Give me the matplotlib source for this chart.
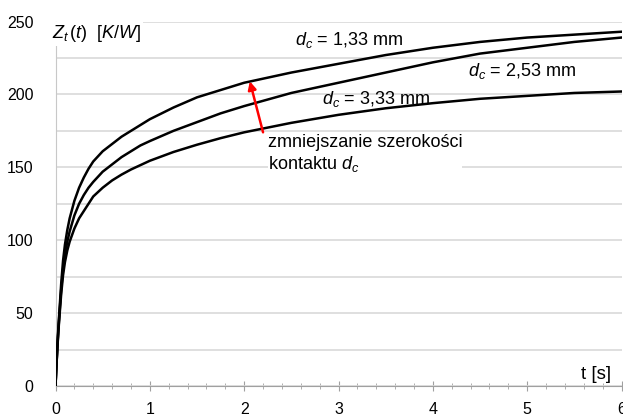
import numpy as np
import matplotlib.pyplot as plt
from matplotlib.ticker import MultipleLocator

plt.rcParams['font.family'] = ['Liberation Sans', 'DejaVu Sans']
plt.rcParams['mathtext.fontset'] = 'custom'
plt.rcParams['mathtext.rm'] = 'Liberation Sans'
plt.rcParams['mathtext.it'] = 'Liberation Sans:italic'

t = [0, 0.01, 0.02, 0.03, 0.04, 0.06, 0.08, 0.1, 0.125, 0.15, 0.2, 0.25,
     0.3, 0.35, 0.4, 0.5, 0.6, 0.7, 0.8, 0.9, 1.0, 1.25, 1.5, 1.75, 2.0,
     2.5, 3.0, 3.5, 4.0, 4.5, 5.0, 5.5, 6.0]
z_133 = [0, 15, 28, 40, 50, 70, 86, 97, 107, 115, 127, 136,
         143, 149, 154, 161, 166, 171, 175, 179, 183, 191, 198, 203, 208,
         215, 221, 227, 232, 236, 239, 241, 243]
z_253 = [0, 14, 27, 38, 48, 66, 80, 90, 99, 106, 117, 125,
         131, 136, 140, 147, 152, 157, 161, 165, 168, 175, 181, 187, 192,
         201, 208, 215, 222, 228, 232, 236, 239]
z_333 = [0, 14, 26, 37, 46, 63, 76, 85, 93, 99, 108, 115,
         120, 125, 130, 136, 141, 145, 148.5, 151.5, 154.5, 160.5, 165.5,
         170, 174, 180.5, 186, 190.5, 194, 197, 199, 201, 202]

labels = ['$d_c$ = 1,33 mm', '$d_c$ = 2,53 mm', '$d_c$ = 3,33 mm']
label_pos = [(2.54, 237), (4.37, 216), (2.83, 197)]

fig = plt.figure(figsize=(6.23, 4.17), dpi=100)
ax = fig.add_axes([0.0891, 0.0743, 0.9085, 0.8741])

for z in (z_133, z_253, z_333):
    ax.plot(t, z, color='black', lw=1.8, zorder=3, solid_joinstyle='round')

ax.set_xlim(0, 6)
ax.set_ylim(0, 250)
ax.yaxis.set_major_locator(MultipleLocator(50))
ax.yaxis.set_minor_locator(MultipleLocator(25))
ax.xaxis.set_major_locator(MultipleLocator(1))
ax.xaxis.set_minor_locator(MultipleLocator(0.2))
ax.grid(axis='y', which='both', color='#d9d9d9', lw=1.2)

for s in ['top', 'right']:
    ax.spines[s].set_visible(False)
ax.spines['left'].set_color('#c8c8c8')
ax.spines['bottom'].set_color('#a0a0a0')
ax.tick_params(axis='y', which='both', length=0, pad=16, labelsize=11.5)
ax.tick_params(axis='x', which='major', direction='inout', length=7,
               color='#a0a0a0', pad=8, labelsize=11.5)
ax.tick_params(axis='x', which='minor', direction='inout', length=4,
               color='#a0a0a0')

ax.text(-0.04, 241.5, r'$Z_t\,(t)$  $[K/W]$', fontsize=13, ha='left',
        va='center', clip_on=False, zorder=4,
        bbox=dict(facecolor='white', edgecolor='none', pad=1))

for lab, (x, y) in zip(labels, label_pos):
    ax.text(x, y, lab, fontsize=13, ha='left', va='center', zorder=4)

ax.annotate('', xy=(2.06, 209), xytext=(2.2, 174),
            arrowprops=dict(arrowstyle='-|>', color='red', lw=1.8,
                            mutation_scale=12, shrinkA=0, shrinkB=0),
            zorder=5)
ax.text(2.25, 159, 'zmniejszanie szerokości\nkontaktu $d_c$', fontsize=13,
        ha='left', va='center', linespacing=1.2, zorder=4,
        bbox=dict(facecolor='white', edgecolor='none', pad=0))

ax.text(5.73, 8, 't [s]', fontsize=13.5, ha='center', va='center')

fig.savefig('out.png', dpi=100)
